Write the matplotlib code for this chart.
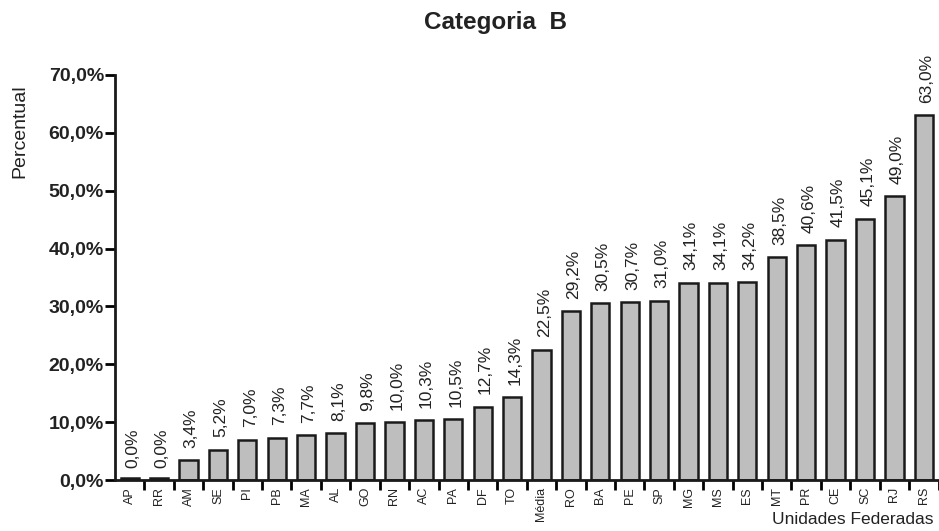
import matplotlib.pyplot as plt
import numpy as np

plt.rcParams["font.family"] = ["Liberation Sans", "DejaVu Sans"]

ufs = ["AP", "RR", "AM", "SE", "PI", "PB", "MA", "AL", "GO", "RN", "AC", "PA",
       "DF", "TO", "Média", "RO", "BA", "PE", "SP", "MG", "MS", "ES", "MT", "PR",
       "CE", "SC", "RJ", "RS"]
percentual = [0.0, 0.0, 3.4, 5.2, 7.0, 7.3, 7.7, 8.1, 9.8, 10.0, 10.3, 10.5,
              12.7, 14.3, 22.5, 29.2, 30.5, 30.7, 31.0, 34.1, 34.1, 34.2, 38.5,
              40.6, 41.5, 45.1, 49.0, 63.0]
yticks = [0, 10, 20, 30, 40, 50, 60, 70]


def fmt_pct(v):
    return f"{v:.1f}%".replace(".", ",")


fig = plt.figure(figsize=(9.39, 5.31), dpi=100)
ax = fig.add_axes([0.1225, 0.096, 0.877, 0.763])

x = np.arange(len(ufs))
# zero-height bars still show as a thin outlined strip
heights = [max(v, 0.35) for v in percentual]
ax.bar(x, heights, width=0.62, color="#bebebe", edgecolor="#1a1a1a", linewidth=1.8)

for xi, v in zip(x, percentual):
    ax.annotate(fmt_pct(v), (xi, v), xytext=(2, 9), textcoords="offset points",
                rotation=90, ha="center", va="bottom", fontsize=12.5, color="#222222")

ax.set_xlim(-0.5, len(ufs) - 0.5)
ax.set_ylim(0, 70)
ax.set_yticks(yticks)
ax.set_yticklabels([fmt_pct(t) for t in yticks], fontsize=14, fontweight="bold", color="#222222")
ax.tick_params(axis="y", direction="out", length=7, width=2, pad=1)

# category names sit under the bars, tick marks between them
ax.set_xticks(x + 0.5, minor=False)
ax.set_xticklabels([])
ax.set_xticks(x, minor=True)
ax.set_xticklabels(ufs, minor=True, rotation=90, fontsize=9, color="#222222")
ax.tick_params(axis="x", which="major", direction="out", length=7, width=2)
ax.tick_params(axis="x", which="minor", length=0, pad=5)

for side in ["top", "right"]:
    ax.spines[side].set_visible(False)
for side in ["left", "bottom"]:
    ax.spines[side].set_linewidth(2)
    ax.spines[side].set_color("#1a1a1a")

fig.text(0.528, 0.958, "Categoria  B", ha="center", va="center",
         fontsize=17.5, fontweight="bold", color="#222222")
fig.text(0.021, 0.753, "Percentual", rotation=90, ha="center", va="center",
         fontsize=14, color="#222222")
fig.text(0.994, 0.021, "Unidades Federadas", ha="right", va="center",
         fontsize=12.5, color="#222222")

fig.savefig("out.png", dpi=100)
